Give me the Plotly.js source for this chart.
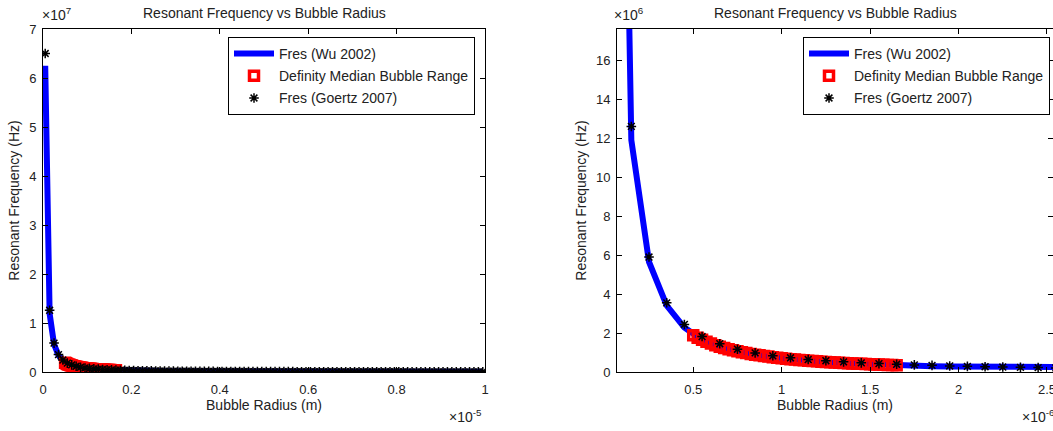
<!DOCTYPE html>
<html>
<head>
<meta charset="utf-8">
<script src="https://cdn.plot.ly/plotly-3.0.1.min.js"></script>
<style>html,body{margin:0;padding:0;background:#fff;}#chart{width:1053px;height:431px;}</style>
</head>
<body>
<div id="chart"></div>
<script>
// Bubble radius samples (micrometres, i.e. x 1e-6 m)
const radiusUm = [
  0.05,0.15,0.25,0.35,0.45,0.55,0.65,0.75,0.85,0.95,
  1.05,1.15,1.25,1.35,1.45,1.55,1.65,1.75,1.85,1.95,
  2.05,2.15,2.25,2.35,2.45,2.55,2.65,2.75,2.85,2.95,
  3.05,3.15,3.25,3.35,3.45,3.55,3.65,3.75,3.85,3.95,
  4.05,4.15,4.25,4.35,4.45,4.55,4.65,4.75,4.85,4.95,
  5.05,5.15,5.25,5.35,5.45,5.55,5.65,5.75,5.85,5.95,
  6.05,6.15,6.25,6.35,6.45,6.55,6.65,6.75,6.85,6.95,
  7.05,7.15,7.25,7.35,7.45,7.55,7.65,7.75,7.85,7.95,
  8.05,8.15,8.25,8.35,8.45,8.55,8.65,8.75,8.85,8.95,
  9.05,9.15,9.25,9.35,9.45,9.55,9.65,9.75,9.85,9.95
];
// Fres (Wu 2002), MHz (x 1e6 Hz)
const fresWuMHz = [
  62.5,11.9,5.65,3.41,2.28,1.65,1.3,1.06,0.89,0.76,
  0.66,0.58,0.515,0.462,0.418,0.38,0.348,0.32,0.3,0.28,
  0.26,0.243,0.23,0.216,0.203,0.19,0.18,0.171,0.162,0.153,
  0.149,0.141,0.135,0.13,0.124,0.119,0.114,0.11,0.106,0.102,
  0.098,0.095,0.092,0.089,0.086,0.084,0.081,0.078,0.076,0.074,
  0.072,0.069,0.068,0.066,0.064,0.062,0.061,0.059,0.058,0.057,
  0.055,0.054,0.053,0.051,0.05,0.05,0.049,0.047,0.046,0.045,
  0.044,0.043,0.042,0.041,0.041,0.04,0.04,0.039,0.038,0.037,
  0.037,0.036,0.035,0.035,0.034,0.033,0.033,0.032,0.032,0.031,
  0.031,0.031,0.03,0.03,0.029,0.029,0.028,0.028,0.027,0.027
];
// Fres (Goertz 2007), MHz
const fresGoertzMHz = [
  65,12.6,5.9,3.55,2.44,1.82,1.45,1.17,0.98,0.83,
  0.73,0.64,0.58,0.52,0.47,0.43,0.395,0.365,0.34,0.31,
  0.29,0.27,0.255,0.24,0.225,0.21,0.2,0.19,0.18,0.17,
  0.165,0.157,0.15,0.144,0.138,0.132,0.127,0.122,0.118,0.113,
  0.109,0.106,0.102,0.099,0.096,0.093,0.09,0.087,0.084,0.082,
  0.08,0.077,0.075,0.073,0.071,0.069,0.068,0.066,0.064,0.063,
  0.061,0.06,0.059,0.057,0.056,0.055,0.054,0.052,0.051,0.05,
  0.049,0.048,0.047,0.046,0.045,0.045,0.044,0.043,0.042,0.041,
  0.041,0.04,0.039,0.039,0.038,0.037,0.037,0.036,0.036,0.035,
  0.034,0.034,0.033,0.033,0.032,0.032,0.031,0.031,0.03,0.03
];
// Definity median bubble range (micrometres) and its Fres (MHz)
const definityRadiusUm = [
  0.5,0.525,0.55,0.575,0.6,0.625,0.65,0.675,0.7,0.725,
  0.75,0.775,0.8,0.825,0.85,0.875,0.9,0.925,0.95,0.975,
  1.0,1.025,1.05,1.075,1.1,1.125,1.15,1.175,1.2,1.225,
  1.25,1.275,1.3,1.325,1.35,1.375,1.4,1.425,1.45,1.475,
  1.5,1.525,1.55,1.575,1.6,1.625,1.65
];
const definityFresMHz = [
  1.889,1.762,1.65,1.549,1.459,1.377,1.302,1.234,1.172,1.115,
  1.063,1.015,0.97,0.929,0.89,0.855,0.821,0.79,0.761,0.733,
  0.707,0.683,0.66,0.639,0.618,0.599,0.58,0.563,0.546,0.53,
  0.515,0.501,0.488,0.475,0.462,0.45,0.439,0.428,0.418,0.408,
  0.398,0.389,0.38,0.372,0.363,0.355,0.348
];
// Tick labels
const leftXTickVals = [0,2,4,6,8,10];
const leftXTickText = ['0','0.2','0.4','0.6','0.8','1'];
const leftYTickVals = [0,10,20,30,40,50,60,70];
const leftYTickText = ['0','1','2','3','4','5','6','7'];
const rightXTickVals = [0.5,1,1.5,2,2.5];
const rightXTickText = ['0.5','1','1.5','2','2.5'];
const rightYTickVals = [0,2,4,6,8,10,12,14,16];
const rightYTickText = ['0','2','4','6','8','10','12','14','16'];

const seriesNames = ['Fres (Wu 2002)','Definity Median Bubble Range','Fres (Goertz 2007)'];
const titleText = 'Resonant Frequency vs Bubble Radius';
const xTitle = 'Bubble Radius (m)';
const yTitle = 'Resonant Frequency (Hz)';

// ---- layout geometry (pixels) ----
const W = 1053, H = 431;
const M = {l:43, r:0, t:29, b:59};
const PW = W - M.l - M.r, PH = H - M.t - M.b;
const px = x => (x - M.l) / PW;
const py = y => (H - M.b - y) / PH;
const FONT = 'Liberation Sans, Arial, Helvetica, sans-serif';
const TXT = '#222';

function traces(xa, ya, lg){
  return [
    {x: radiusUm, y: fresWuMHz, xaxis: xa, yaxis: ya, type:'scatter', mode:'lines',
     name: seriesNames[0], legend: lg, legendgroup: lg+'a',
     line:{color:'#0000ff', width:6}},
    {x: definityRadiusUm, y: definityFresMHz, xaxis: xa, yaxis: ya, type:'scatter', mode:'markers',
     name: seriesNames[1], legend: lg, legendgroup: lg+'b',
     marker:{symbol:'square-open', size:9, color:'#ff0000', line:{color:'#ff0000', width:3.5}}},
    {x: radiusUm, y: fresGoertzMHz, xaxis: xa, yaxis: ya, type:'scatter', mode:'markers',
     name: seriesNames[2], legend: lg, legendgroup: lg+'c',
     marker:{symbol:'asterisk-open', size:8, color:'#000000', line:{color:'#000000', width:1.5}}}
  ];
}

const data = traces('x','y','legend').concat(traces('x2','y2','legend2'));

function axis(extra){
  return Object.assign({
    showline:true, linecolor:'#000', linewidth:1, mirror:'ticks',
    ticks:'inside', ticklen:5, tickcolor:'#000', tickwidth:1,
    showgrid:false, zeroline:false, tickmode:'array',
    tickfont:{family:FONT, size:13, color:TXT},
    ticklabeloverflow:'allow', fixedrange:true
  }, extra);
}
const titleFont = {family:FONT, size:14, color:TXT};

const legendStyle = {
  bgcolor:'#fff', bordercolor:'#000', borderwidth:1,
  font:{family:FONT, size:14, color:TXT},
  xanchor:'left', yanchor:'top', tracegroupgap:1, itemwidth:40
};

const layout = {
  width:W, height:H, margin:M, paper_bgcolor:'#fff', plot_bgcolor:'#fff',
  font:{family:FONT, size:13, color:TXT},
  xaxis: axis({domain:[0, px(485)], range:[0,10], tickvals:leftXTickVals, ticktext:leftXTickText,
    anchor:'y', ticklabelstandoff:5, title:{text:xTitle, font:titleFont, standoff:4}}),
  yaxis: axis({domain:[0,1], range:[0,70], tickvals:leftYTickVals, ticktext:leftYTickText,
    anchor:'x', ticklabelstandoff:3, title:{text:yTitle, font:titleFont, standoff:6}}),
  xaxis2: axis({domain:[px(617), 1], range:[0.069,2.534], tickvals:rightXTickVals, ticktext:rightXTickText,
    anchor:'y2', ticklabelstandoff:5, title:{text:xTitle, font:titleFont, standoff:4}}),
  yaxis2: axis({domain:[0,1], range:[0,17.6], tickvals:rightYTickVals, ticktext:rightYTickText,
    anchor:'x2', ticklabelstandoff:3, title:{text:yTitle, font:titleFont, standoff:6}}),
  legend: Object.assign({x:px(228), y:py(37)}, legendStyle),
  legend2: Object.assign({x:px(803), y:py(37)}, legendStyle),
  annotations: [
    {text:titleText, xref:'paper', yref:'paper', x:px(264), y:py(13), xanchor:'center', yanchor:'middle', showarrow:false, font:titleFont},
    {text:titleText, xref:'paper', yref:'paper', x:px(835), y:py(13), xanchor:'center', yanchor:'middle', showarrow:false, font:titleFont},
    {text:'×10<sup>7</sup>', xref:'paper', yref:'paper', x:px(40), y:py(14), xanchor:'left', yanchor:'middle', showarrow:false, font:titleFont},
    {text:'×10<sup>6</sup>', xref:'paper', yref:'paper', x:px(612), y:py(14), xanchor:'left', yanchor:'middle', showarrow:false, font:titleFont},
    {text:'×10<sup>-5</sup>', xref:'paper', yref:'paper', x:px(447), y:py(416), xanchor:'left', yanchor:'middle', showarrow:false, font:titleFont},
    {text:'×10<sup>-6</sup>', xref:'paper', yref:'paper', x:px(1020), y:py(416), xanchor:'left', yanchor:'middle', showarrow:false, font:titleFont}
  ],
  showlegend:true
};

Plotly.newPlot('chart', data, layout, {staticPlot:true, displayModeBar:false});
</script>
</body>
</html>
